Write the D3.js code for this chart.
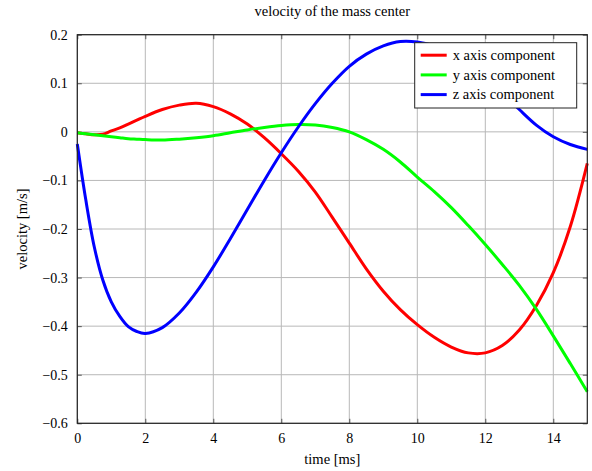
<!DOCTYPE html>
<html>
<head>
<meta charset="utf-8">
<script src="https://cdn.jsdelivr.net/npm/d3@7"></script>
<style>
  body { margin: 0; background: #fff; }
  svg text { font-family: "Liberation Serif", "Times New Roman", Tinos, "DejaVu Serif", "Noto Serif", serif !important; fill: #000; }
</style>
</head>
<body>
<div id="chart"></div>
<script>
// time samples [ms]
const time = [0, 0.25, 0.5, 0.75, 1, 1.25, 1.5, 1.75, 2, 2.5, 3, 3.5, 4, 4.5, 5, 5.5, 6, 6.5, 7, 7.5,
  8, 8.5, 9, 9.5, 10, 10.5, 11, 11.5, 12, 12.5, 13, 13.5, 14, 14.5, 15];

// velocity components [m/s]
const xComp = [-0.002, -0.004, -0.006, -0.005, 0.002, 0.008, 0.016, 0.024, 0.032, 0.046, 0.055, 0.059, 0.052, 0.037,
  0.016, -0.012, -0.045, -0.081, -0.124, -0.176, -0.229, -0.282, -0.328, -0.366, -0.397, -0.423, -0.443,
  -0.455, -0.455, -0.44, -0.408, -0.358, -0.29, -0.195, -0.065];
const yComp = [-0.002, -0.004, -0.006, -0.008, -0.010, -0.012, -0.014, -0.015, -0.016, -0.017, -0.015, -0.012, -0.008, -0.002,
  0.004, 0.009, 0.013, 0.015, 0.014, 0.009, 0.0, -0.016, -0.036, -0.062, -0.093, -0.123, -0.156,
  -0.193, -0.232, -0.273, -0.316, -0.365, -0.42, -0.477, -0.535];
const zComp = [-0.025, -0.14, -0.237, -0.305, -0.35, -0.38, -0.401, -0.411, -0.415, -0.403, -0.373, -0.33, -0.278, -0.22,
  -0.16, -0.1, -0.043, 0.01, 0.058, 0.1, 0.135, 0.16, 0.177, 0.186, 0.185, 0.177, 0.163,
  0.14, 0.112, 0.08, 0.046, 0.014, -0.01, -0.026, -0.036];

const seriesNames = ["x axis component", "y axis component", "z axis component"];
const seriesColors = ["#ff0000", "#00ff00", "#0000ff"];
const xTicks = [0, 2, 4, 6, 8, 10, 12, 14];
const yTicks = [-0.6, -0.5, -0.4, -0.3, -0.2, -0.1, 0, 0.1, 0.2];

const W = 592, H = 471;
const margin = { top: 34.7, right: 4.7, bottom: 47.7, left: 77.3 };
const width = W - margin.left - margin.right,
  height = H - margin.top - margin.bottom;

const svg = d3.select("#chart").append("svg")
  .attr("width", W).attr("height", H);
const g = svg.append("g")
  .attr("transform", `translate(${margin.left},${margin.top})`);

const x = d3.scaleLinear().domain([0, 15]).range([0, width]);
const y = d3.scaleLinear().domain([-0.6, 0.2]).range([height, 0]);

const fmtY = d => d === 0 ? "0" : d3.format(".1f")(d).replace("-", "\u2212");

// grid
g.append("g").selectAll("line").data(xTicks).join("line")
  .attr("x1", d => x(d)).attr("x2", d => x(d))
  .attr("y1", 0).attr("y2", height)
  .attr("stroke", "#b8b8b8").attr("stroke-width", 1);
g.append("g").selectAll("line").data(yTicks).join("line")
  .attr("x1", 0).attr("x2", width)
  .attr("y1", d => y(d)).attr("y2", d => y(d))
  .attr("stroke", "#b8b8b8").attr("stroke-width", 1);

// axes with inward ticks on all sides
const tl = 4.5;
g.append("g").attr("transform", `translate(0,${height})`)
  .call(d3.axisBottom(x).tickValues(xTicks).tickSizeInner(-tl).tickSizeOuter(0).tickPadding(tl + 5).tickFormat(d3.format("d")))
  .call(a => a.select(".domain").remove());
g.append("g")
  .call(d3.axisTop(x).tickValues(xTicks).tickSizeInner(-tl).tickSizeOuter(0).tickFormat(""))
  .call(a => a.select(".domain").remove());
g.append("g")
  .call(d3.axisLeft(y).tickValues(yTicks).tickSizeInner(-tl).tickSizeOuter(0).tickPadding(tl + 5).tickFormat(fmtY))
  .call(a => a.select(".domain").remove());
g.append("g").attr("transform", `translate(${width},0)`)
  .call(d3.axisRight(y).tickValues(yTicks).tickSizeInner(-tl).tickSizeOuter(0).tickFormat(""))
  .call(a => a.select(".domain").remove());

g.selectAll(".tick line").attr("stroke", "#333").attr("stroke-width", 0.8);
g.selectAll(".tick text").style("font-size", "14px").attr("fill", "#000");

// curves
const series = [xComp, yComp, zComp];
const line = d3.line()
  .x((d, i) => x(time[i]))
  .y(d => y(d))
  .curve(d3.curveCatmullRom.alpha(0.5));

g.append("g").selectAll("path").data(series).join("path")
  .attr("d", d => line(d))
  .attr("fill", "none")
  .attr("stroke", (d, i) => seriesColors[i])
  .attr("stroke-width", 3)
  .attr("stroke-linejoin", "round");

// frame
g.append("rect")
  .attr("width", width).attr("height", height)
  .attr("fill", "none").attr("stroke", "#222").attr("stroke-width", 1.2);

// legend
const lg = svg.append("g").attr("transform", "translate(414.7,42.7)");
lg.append("rect")
  .attr("width", 162).attr("height", 65.3)
  .attr("fill", "#fff").attr("stroke", "#222").attr("stroke-width", 1);
const item = lg.selectAll("g.item").data(seriesNames).join("g")
  .attr("class", "item")
  .attr("transform", (d, i) => `translate(0,${12.5 + i * 19.7})`);
item.append("line")
  .attr("x1", 6).attr("x2", 32)
  .attr("stroke", (d, i) => seriesColors[i]).attr("stroke-width", 3);
item.append("text")
  .attr("x", 38).attr("dy", "0.33em")
  .style("font-size", "14.5px")
  .text(d => d);

// titles
svg.append("text")
  .attr("x", margin.left + width / 2).attr("y", 16)
  .attr("text-anchor", "middle").style("font-size", "14.5px")
  .text("velocity of the mass center");
svg.append("text")
  .attr("x", margin.left + width / 2).attr("y", 464)
  .attr("text-anchor", "middle").style("font-size", "14.5px")
  .text("time [ms]");
svg.append("text")
  .attr("transform", `translate(27,${margin.top + height / 2}) rotate(-90)`)
  .attr("text-anchor", "middle").style("font-size", "14.5px")
  .text("velocity [m/s]");
</script>
</body>
</html>
